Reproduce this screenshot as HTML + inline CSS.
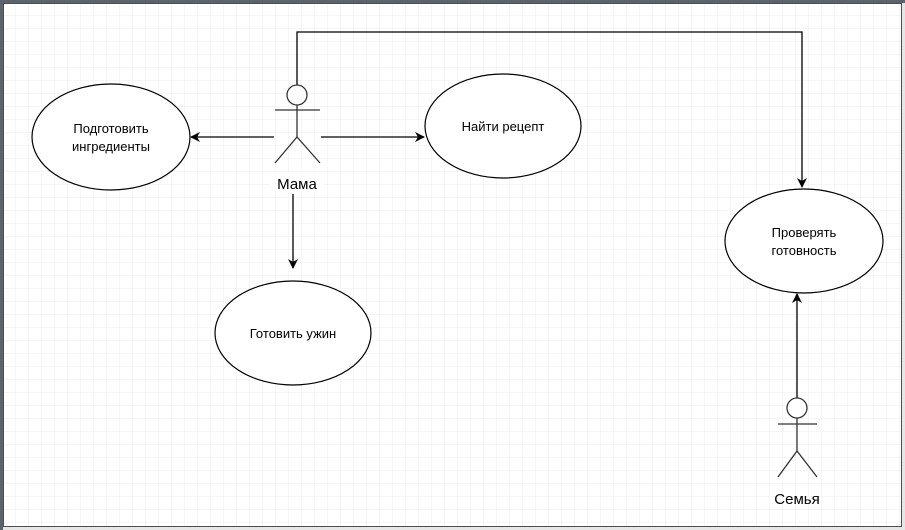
<!DOCTYPE html>
<html><head><meta charset="utf-8"><style>
html,body{margin:0;padding:0;background:#f0f0f0;}
svg{display:block;font-family:"Liberation Sans",sans-serif;}
</style></head><body>
<svg width="905" height="530" viewBox="0 0 905 530" xmlns="http://www.w3.org/2000/svg">
<defs>
<pattern id="g" width="13" height="13" patternUnits="userSpaceOnUse" x="3" y="3">
<path d="M13 0V13H0" fill="none" stroke="#ececec" stroke-width="1"/>
</pattern>
<marker id="a" markerWidth="10" markerHeight="10" refX="9" refY="5" orient="auto" markerUnits="userSpaceOnUse">
<path d="M0,0 L10,5 L0,10 L3,5 Z" fill="#000"/>
</marker>
</defs>
<rect x="0" y="0" width="905" height="530" fill="#e6e6e6"/>
<rect x="0" y="0" width="905" height="3" fill="#5d636b"/>
<rect x="0" y="0" width="3" height="530" fill="#5d636b"/>
<rect x="3" y="3" width="898" height="523" fill="#fff"/>
<rect x="3" y="3" width="898" height="523" fill="url(#g)"/>
<rect x="3.5" y="3.5" width="898" height="523" fill="none" stroke="#4a4f55" stroke-width="1"/>
<g stroke="#000" stroke-width="1.3" fill="none">
<polyline points="297,85 297,32 802,32 802,187" marker-end="url(#a)"/>
<line x1="274" y1="137" x2="191" y2="137" marker-end="url(#a)"/>
<line x1="321" y1="137" x2="424" y2="137" marker-end="url(#a)"/>
<line x1="293" y1="194" x2="293" y2="268" marker-end="url(#a)"/>
<line x1="797" y1="398" x2="797" y2="294" marker-end="url(#a)"/>
</g>
<g stroke="#000" stroke-width="1.2" fill="#fff">
<ellipse cx="111" cy="137" rx="79" ry="53"/>
<ellipse cx="503" cy="126" rx="78" ry="52"/>
<ellipse cx="293" cy="333" rx="78" ry="52"/>
<ellipse cx="804" cy="241" rx="79" ry="52"/>
</g>
<g stroke="#333" stroke-width="1.3" fill="#fff">
<circle cx="297" cy="95" r="10"/>
<line x1="275" y1="110" x2="320" y2="110"/>
<line x1="297" y1="105" x2="297" y2="137"/>
<polyline points="275,163 297,137 320,163" fill="none"/>
<circle cx="797" cy="408" r="10"/>
<line x1="778" y1="424" x2="817" y2="424"/>
<line x1="797" y1="418" x2="797" y2="451"/>
<polyline points="778,477 797,451 817,477" fill="none"/>
</g>
<rect x="270" y="173" width="54" height="20" fill="#fff"/>
<g font-size="13" fill="#000" text-anchor="middle">
<text x="111" y="133">Подготовить</text>
<text x="111" y="151">ингредиенты</text>
<text x="503" y="131">Найти рецепт</text>
<text x="293" y="338">Готовить ужин</text>
<text x="804" y="237">Проверять</text>
<text x="804" y="255">готовность</text>
<text x="297" y="189" font-size="15">Мама</text>
<text x="797" y="504" font-size="15">Семья</text>
</g>
</svg>
</body></html>
